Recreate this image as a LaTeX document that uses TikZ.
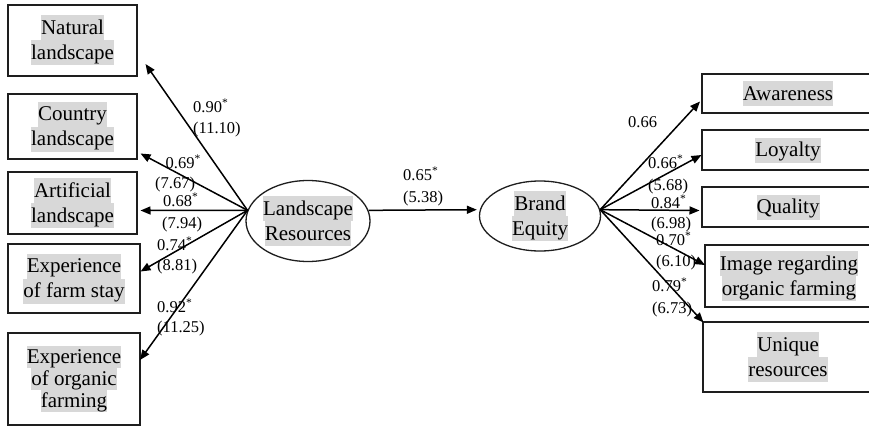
\documentclass[tikz,border=0pt]{standalone}
\usepackage{fontspec}
\setmainfont{Liberation Serif}
\usetikzlibrary{shapes.geometric,arrows.meta}
\definecolor{hlgray}{RGB}{216,216,216}
\definecolor{edge}{RGB}{30,30,30}
% highlighted line of text; the strut makes consecutive lines touch
\newcommand\hl[1]{{\setlength\fboxsep{0pt}\colorbox{hlgray}{\rule[-6pt]{0pt}{25pt}#1}}}
\newcommand\hls[1]{{\setlength\fboxsep{0pt}\colorbox{hlgray}{\rule[-5pt]{0pt}{22pt}#1}}}
\newcommand\sig{\textsuperscript{*}}
\begin{document}
\begin{tikzpicture}[x=1pt,y=-1pt,
  box/.style={draw=edge, line width=1.3pt, inner sep=0pt, align=center,
    font=\fontsize{21}{25}\selectfont},
  latent/.style={draw=edge, ellipse, line width=1.3pt, inner sep=0pt},
  ltext/.style={inner sep=0pt, align=center, font=\fontsize{21}{25}\selectfont},
  load/.style={line width=1.5pt, draw=black, -{Triangle[length=10pt,width=8pt]}},
  coef/.style={font=\fontsize{16.5}{20}\selectfont, anchor=base west, inner sep=0pt}]
\useasboundingbox (0,0) rectangle (869,428);
\clip (0,0) rectangle (869,428);
\fill[white] (0,0) rectangle (869,428);

% indicators of landscape resources
\node[box, minimum width=129, minimum height=71] (nat) at (72.5,40.5) {\hl{Natural}\\\hl{landscape}};
\node[box, minimum width=129, minimum height=65] (cty) at (72.5,126.5) {\hl{Country}\\\hl{landscape}};
\node[box, minimum width=129, minimum height=62] (art) at (72.5,203) {\hl{Artificial}\\\hl{landscape}};
\node[box, minimum width=132, minimum height=69] (farm) at (74,278.5) {\hl{Experience}\\\hl{of farm stay}};
\node[box, minimum width=132, minimum height=92, font=\fontsize{21}{22}\selectfont] (org) at (74,379)
  {\hls{Experience}\\\hls{of organic}\\\hls{farming}};

% latent constructs
\node[latent, minimum width=124, minimum height=81] (LR) at (308,221) {};
\node[ltext] (LRt) at (LR.center) {\hl{Landscape}\\\hl{Resources}};
\node[latent, minimum width=121, minimum height=70] (BE) at (540,216) {};
\node[ltext] (BEt) at (BE.center) {\hl{Brand}\\\hl{Equity}};

% indicators of brand equity
\node[box, minimum width=172, minimum height=39] (aw) at (788,93.5) {\hl{Awareness}};
\node[box, minimum width=172, minimum height=40] (loy) at (788,150) {\hl{Loyalty}};
\node[box, minimum width=172, minimum height=40] (qual) at (788,207) {\hl{Quality}};
\node[box, minimum width=168, minimum height=62] (img) at (789,276) {\hl{Image regarding}\\\hl{organic farming}};
\node[box, minimum width=170, minimum height=70] (uniq) at (788,357) {\hl{Unique}\\\hl{resources}};

% arrow tips
\coordinate (tnat) at (145.5,64);
\coordinate (tcty) at (140.5,153.5);
\coordinate (tart) at (140.5,210.5);
\coordinate (tfarm) at (140.5,271.5);
\coordinate (torg) at (140,360);
\coordinate (taw) at (700,101.5);
\coordinate (tloy) at (701.5,155);
\coordinate (tqual) at (699.5,210.5);
\coordinate (timg) at (705,265);
\coordinate (tuniq) at (703.5,322.5);

% loadings
\draw[load] (LR.170) -- (tnat);
\draw[load] (LR.170) -- (tcty);
\draw[load] (LR.170) -- (tart);
\draw[load] (LR.170) -- (tfarm);
\draw[load] (LR.170) -- (torg);
\draw[load, shorten >=3pt] (LR.10) -- (BE.174);
\draw[load] (BE.6) -- (taw);
\draw[load] (BE.6) -- (tloy);
\draw[load] (BE.6) -- (tqual);
\draw[load] (BE.6) -- (timg);
\draw[load] (BE.6) -- (tuniq);

% coefficients and t-values
\node[coef] (c1a) at (193,112.5) {0.90\sig};
\node[coef] (c1b) at (193,133.5) {(11.10)};
\node[coef] (c2a) at (165.5,168.5) {0.69\sig};
\node[coef] (c2b) at (155,188.5) {(7.67)};
\node[coef] (c3a) at (163,206.5) {0.68\sig};
\node[coef] (c3b) at (162,228.5) {(7.94)};
\node[coef] (c4a) at (157,250.5) {0.74\sig};
\node[coef] (c4b) at (157,270.5) {(8.81)};
\node[coef] (c5a) at (157,312.5) {0.92\sig};
\node[coef] (c5b) at (157,332.5) {(11.25)};
\node[coef] (cma) at (403,180.5) {0.65\sig};
\node[coef] (cmb) at (403,202.5) {(5.38)};
\node[coef] (r1a) at (628,127.5) {0.66};
\node[coef] (r2a) at (648,168.5) {0.66\sig};
\node[coef] (r2b) at (648,190.5) {(5.68)};
\node[coef] (r3a) at (651,208.5) {0.84\sig};
\node[coef] (r3b) at (651,228.5) {(6.98)};
\node[coef] (r4a) at (656,245.5) {0.70\sig};
\node[coef] (r4b) at (656,266.5) {(6.10)};
\node[coef] (r5a) at (652,291.5) {0.79\sig};
\node[coef] (r5b) at (652,313.5) {(6.73)};
\end{tikzpicture}
\end{document}
